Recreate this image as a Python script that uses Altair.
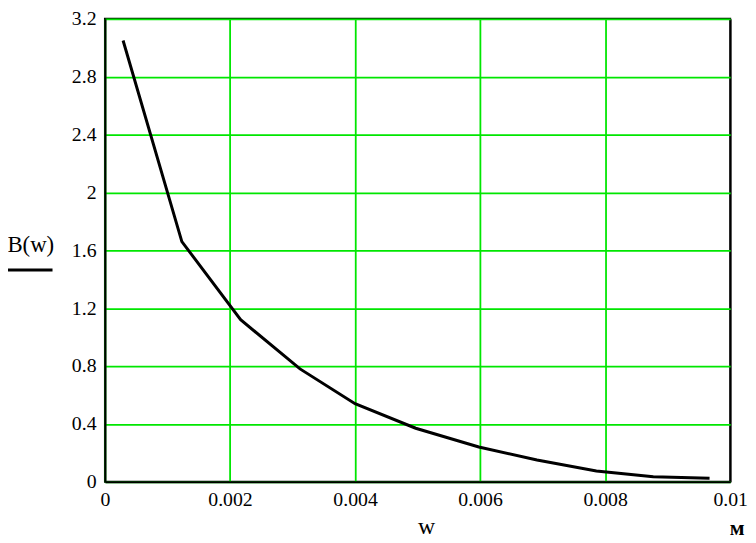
import altair as alt
import pandas as pd

# data
w_vals = [0.00029, 0.00123, 0.00217, 0.00312, 0.00400, 0.00497, 0.00598, 0.00691, 0.00786, 0.00877, 0.00967]
b_vals = [3.05, 1.66, 1.12, 0.78, 0.54, 0.37, 0.24, 0.15, 0.075, 0.035, 0.025]
x_ticks = [0, 0.002, 0.004, 0.006, 0.008, 0.01]
y_ticks = [0, 0.4, 0.8, 1.2, 1.6, 2, 2.4, 2.8, 3.2]
y_title = "B(w)"
x_title = "w"
unit = "м"

FONT = "Times New Roman, Liberation Serif, serif"
GRID = "#00e600"

df = pd.DataFrame({"w": w_vals, "B": b_vals})

line = alt.Chart(df).mark_line(color="black", strokeWidth=3, clip=True).encode(
    x=alt.X("w:Q", scale=alt.Scale(domain=[0, 0.01], nice=False, zero=False),
            axis=alt.Axis(values=x_ticks, format="~g", title=None, ticks=False,
                          labelPadding=8, labelFontSize=20, labelFont=FONT, labelColor="black",
                          domainColor="black", domainWidth=2,
                          grid=True, gridWidth=1.8,
                          gridColor={"condition": {"test": "datum.value >= 0.0099", "value": "black"},
                                     "value": GRID},
                          labelFlush=False, labelOverlap=False)),
    y=alt.Y("B:Q", scale=alt.Scale(domain=[0, 3.2], nice=False),
            axis=alt.Axis(values=y_ticks, format="~g", title=None, ticks=False,
                          labelPadding=9, labelFontSize=20, labelFont=FONT, labelColor="black",
                          domainColor="black", domainWidth=2,
                          grid=True, gridWidth=1.8, gridColor=GRID,
                          labelFlush=False, labelOverlap=False)),
)

ytitle = alt.Chart(pd.DataFrame({"t": [y_title]})).mark_text(
    font=FONT, fontSize=23, color="black", align="center", baseline="middle"
).encode(x=alt.value(-75), y=alt.value(229), text="t:N")

yrule = alt.Chart(pd.DataFrame({"t": [y_title]})).mark_rule(color="black", strokeWidth=3).encode(
    x=alt.value(-98), x2=alt.value(-53), y=alt.value(254)
)

xtitle = alt.Chart(pd.DataFrame({"t": [x_title]})).mark_text(
    font=FONT, fontSize=24, color="black", align="center", baseline="middle"
).encode(x=alt.value(325), y=alt.value(514), text="t:N")

unit_txt = alt.Chart(pd.DataFrame({"t": [unit]})).mark_text(
    font=FONT, fontSize=22, fontWeight="bold", color="black", align="center", baseline="middle"
).encode(x=alt.value(639), y=alt.value(515), text="t:N")

chart = alt.layer(line, ytitle, yrule, xtitle, unit_txt).properties(
    width=632, height=468,
    autosize=alt.AutoSizeParams(type="none"),
    padding={"left": 98, "top": 8, "right": 18, "bottom": 59},
    background="white",
).configure(font=FONT
).configure_view(stroke="black", strokeWidth=2
).configure_axis(labelFont=FONT, labelFontSize=20, labelColor="black"
).configure_text(font=FONT)

chart.save("out.html", embed_options={"renderer": "svg", "actions": False})
